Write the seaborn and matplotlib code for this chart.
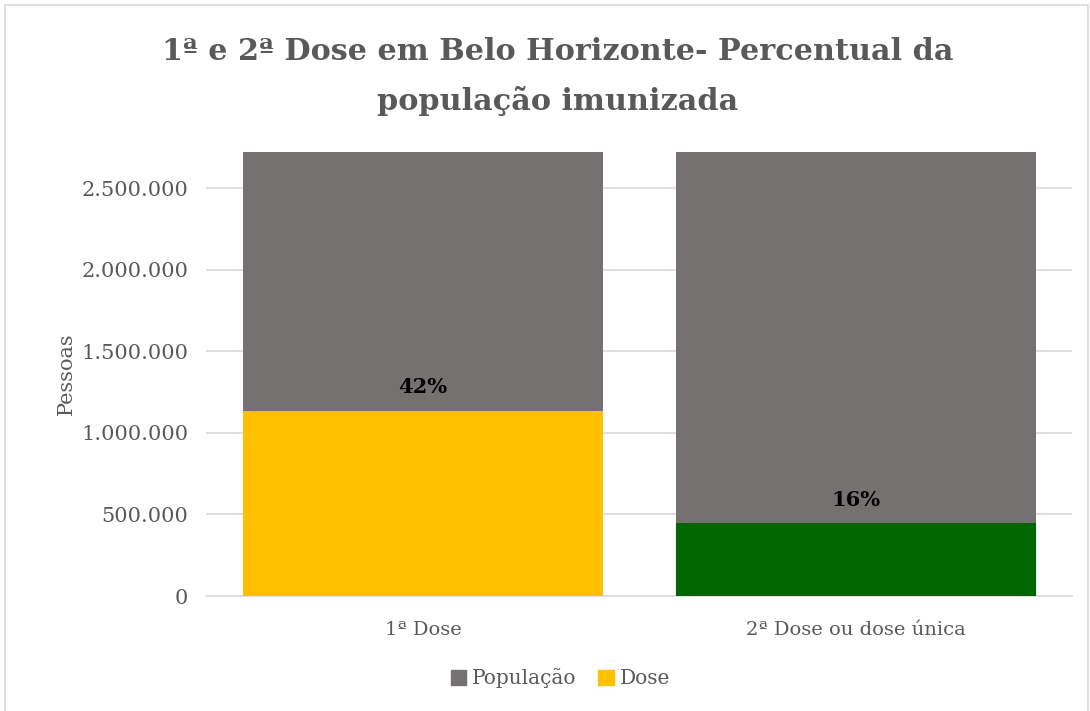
import matplotlib
matplotlib.use("Agg")
import matplotlib.pyplot as plt
import matplotlib.patches as mpatches
import seaborn as sns
import pandas as pd
from matplotlib.ticker import FuncFormatter, MultipleLocator

# Data
categories = ["1ª Dose", "2ª Dose ou dose única"]
populacao = [2721564, 2721564]
doses = [1135000, 445000]
dose_colors = ["#FFC000", "#006600"]
pop_color = "#767171"

sns.set_theme(style="white")
plt.rcParams["font.family"] = ["DejaVu Serif"]

df_pop = pd.DataFrame({"cat": categories, "valor": populacao})
df_dose = pd.DataFrame({"cat": categories, "valor": doses})

fig = plt.figure(figsize=(10.9, 7.11), dpi=100)
ax = fig.add_axes([0.1894, 0.1617, 0.7945, 0.6245])

sns.barplot(data=df_pop, x="cat", y="valor", color=pop_color, width=0.83,
            saturation=1, linewidth=0, ax=ax, zorder=2)
sns.barplot(data=df_dose, x="cat", y="valor", hue="cat", palette=dose_colors,
            width=0.83, saturation=1, linewidth=0, legend=False, ax=ax, zorder=3)

ax.set_ylim(0, populacao[0])
ax.set_xlim(-0.5, 1.5)
ax.yaxis.set_major_locator(MultipleLocator(500000))
ax.yaxis.set_major_formatter(FuncFormatter(lambda v, p: f"{v:,.0f}".replace(",", ".")))
ax.grid(axis="y", color="#D9D9D9", linewidth=1.2, zorder=0)
ax.set_axisbelow(True)
for s in ["top", "right", "left"]:
    ax.spines[s].set_visible(False)
ax.spines["bottom"].set_color("#D9D9D9")
ax.spines["bottom"].set_linewidth(1.2)
ax.tick_params(axis="y", length=0, labelsize=15, labelcolor="#595959", pad=13)
ax.tick_params(axis="x", length=0, labelsize=14, labelcolor="#595959", pad=18)
ax.set_xlabel("")
ax.set_ylabel("Pessoas", fontsize=15, color="#595959", labelpad=4)

# Percent labels above the dose bars
for i, (d, p) in enumerate(zip(doses, populacao)):
    ax.text(i, d + 85000, f"{round(100 * d / p)}%", ha="center", va="bottom",
            fontsize=15, fontweight="bold", color="black", zorder=4)

fig.suptitle("1ª e 2ª Dose em Belo Horizonte- Percentual da\npopulação imunizada",
             x=0.512, y=0.948, fontsize=21.8, fontweight="bold", color="#595959",
             linespacing=1.85)

handles = [mpatches.Patch(color=pop_color, label="População"),
           mpatches.Patch(color=dose_colors[0], label="Dose")]
fig.legend(handles=handles, loc="center", bbox_to_anchor=(0.514, 0.046), ncol=2,
           frameon=False, fontsize=14.5, labelcolor="#595959", handlelength=0.75,
           handleheight=0.75, handletextpad=0.3, columnspacing=1.1)

# Outer chart frame
fig.patches.append(mpatches.Rectangle((0.005, -0.02), 0.993, 1.013, transform=fig.transFigure,
                                      fill=False, edgecolor="#D9D9D9", linewidth=1.2))

fig.savefig("out.png", dpi=100, facecolor="white")
